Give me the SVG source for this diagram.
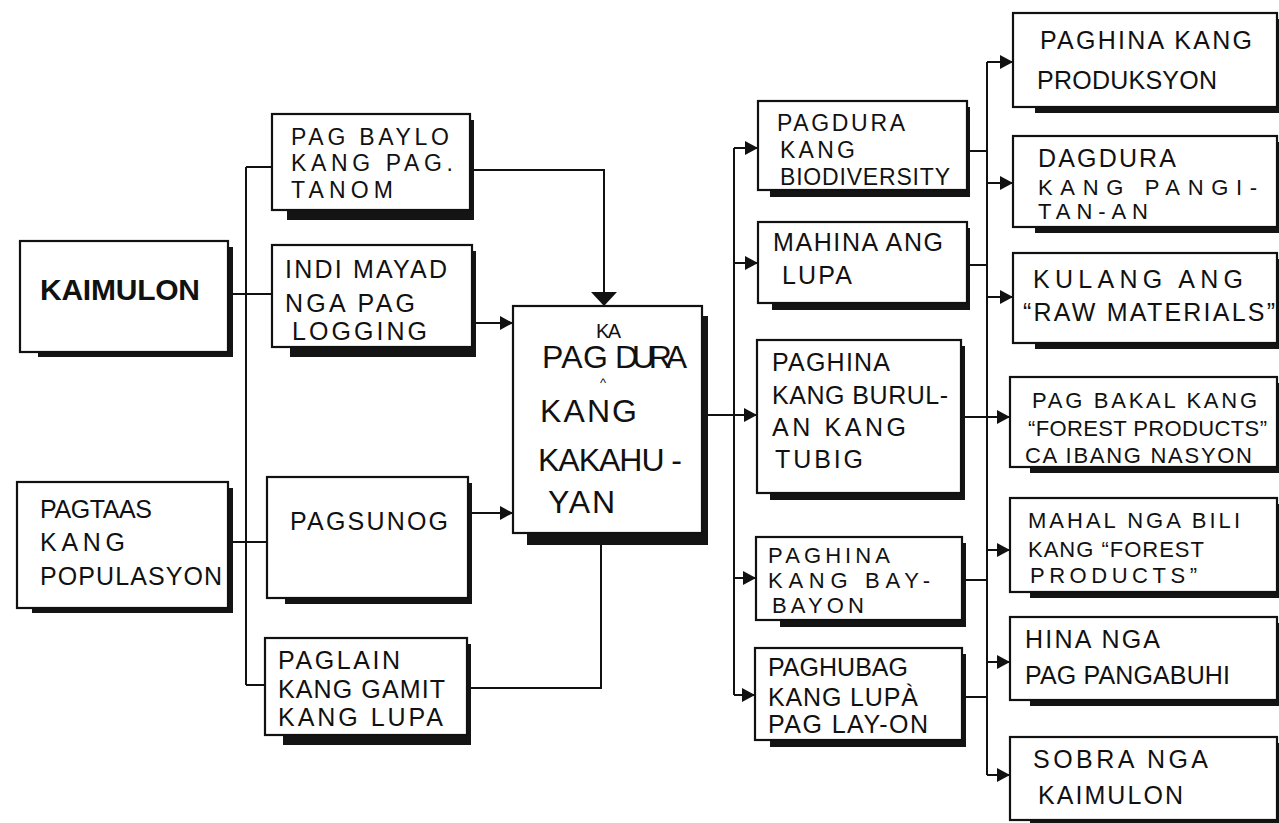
<svg xmlns="http://www.w3.org/2000/svg" width="1279" height="823" viewBox="0 0 1279 823">
<style>
.bg{fill:#ffffff}
.box{fill:#ffffff;stroke:#111;stroke-width:2.2}
.sh{fill:#141414}
.t{font-family:"Liberation Sans","DejaVu Sans",sans-serif;font-size:25px;fill:#111}
.m{font-family:"Liberation Sans","DejaVu Sans",sans-serif;font-size:23px;fill:#111}
.s{font-family:"Liberation Sans","DejaVu Sans",sans-serif;font-size:22px;fill:#111}
.c{font-family:"Liberation Sans","DejaVu Sans",sans-serif;font-size:32px;fill:#111}
.ln{fill:none;stroke:#111;stroke-width:2}
</style>
<defs>
<marker id="ah" markerUnits="userSpaceOnUse" markerWidth="14" markerHeight="14" refX="13" refY="7" orient="auto">
<path d="M0,0 L13,7 L0,14 z" fill="#111"/>
</marker>
<marker id="ahb" markerUnits="userSpaceOnUse" markerWidth="16" markerHeight="26" refX="14" refY="13" orient="auto">
<path d="M0,0 L14,13 L0,26 z" fill="#111"/>
</marker>
</defs>
<rect class="bg" x="0" y="0" width="1279" height="823"/>

<g id="connectors">
<path class="ln" d="M246 167 V685"/>
<path class="ln" d="M246 167 H272"/>
<path class="ln" d="M228 294 H272"/>
<path class="ln" d="M228 542 H267"/>
<path class="ln" d="M246 685 H265"/>
<path class="ln" d="M470 170 H604 V306" marker-end="url(#ahb)"/>
<path class="ln" d="M472 323 H513" marker-end="url(#ah)"/>
<path class="ln" d="M468 513 H513" marker-end="url(#ah)"/>
<path class="ln" d="M467 688 H601 V545"/>
<path class="ln" d="M708 415 H757" marker-end="url(#ah)"/>
<path class="ln" d="M734 148 V695"/>
<path class="ln" d="M734 148 H758" marker-end="url(#ah)"/>
<path class="ln" d="M734 263 H758" marker-end="url(#ah)"/>
<path class="ln" d="M734 578 H756" marker-end="url(#ah)"/>
<path class="ln" d="M734 695 H755" marker-end="url(#ah)"/>
<path class="ln" d="M987 62 V775"/>
<path class="ln" d="M967 151 H987"/>
<path class="ln" d="M967 265 H987"/>
<path class="ln" d="M961 417 H1010" marker-end="url(#ah)"/>
<path class="ln" d="M962 580 H987"/>
<path class="ln" d="M962 697 H987"/>
<path class="ln" d="M987 62 H1013" marker-end="url(#ah)"/>
<path class="ln" d="M987 183 H1013" marker-end="url(#ah)"/>
<path class="ln" d="M987 297 H1013" marker-end="url(#ah)"/>
<path class="ln" d="M987 550 H1010" marker-end="url(#ah)"/>
<path class="ln" d="M987 662 H1010" marker-end="url(#ah)"/>
<path class="ln" d="M987 775 H1010" marker-end="url(#ah)"/>
</g>

<g id="kaimulon">
<rect class="sh" x="38" y="247" width="195" height="110"/>
<rect class="box" x="20" y="241" width="208" height="111"/>
<text x="40" y="300" font-family="Liberation Sans, sans-serif" font-size="30" font-weight="bold" fill="#111" textLength="160">KAIMULON</text>
</g>

<g id="pagtaas">
<rect class="sh" x="32" y="488" width="201" height="125"/>
<rect class="box" x="17" y="482" width="211" height="126"/>
<text class="t" x="40" y="518" textLength="112">PAGTAAS</text>
<text class="t" x="40" y="551" textLength="85">KANG</text>
<text class="t" x="40" y="585" textLength="182">POPULASYON</text>
</g>

<g id="pagbaylo">
<rect class="sh" x="287" y="120" width="187" height="100"/>
<rect class="box" x="272" y="114" width="198" height="96"/>
<text class="m" x="291" y="145" textLength="158">PAG BAYLO</text>
<text class="m" x="291" y="171" textLength="162">KANG PAG.</text>
<text class="m" x="291" y="198" textLength="102">TANOM</text>
</g>

<g id="indimayad">
<rect class="sh" x="290" y="251" width="186" height="106"/>
<rect class="box" x="272" y="245" width="200" height="102"/>
<text class="t" x="285" y="278" textLength="162">INDI MAYAD</text>
<text class="t" x="285" y="312" textLength="130">NGA PAG</text>
<text class="t" x="292" y="340" textLength="135">LOGGING</text>
</g>

<g id="pagsunog">
<rect class="sh" x="285" y="483" width="187" height="121"/>
<rect class="box" x="267" y="477" width="201" height="121"/>
<text class="t" x="290" y="530" textLength="158">PAGSUNOG</text>
</g>

<g id="paglain">
<rect class="sh" x="283" y="644" width="188" height="101"/>
<rect class="box" x="265" y="638" width="202" height="97"/>
<text class="t" x="278" y="669" textLength="122">PAGLAIN</text>
<text class="t" x="278" y="698" textLength="167">KANG GAMIT</text>
<text class="t" x="278" y="726" textLength="165">KANG LUPA</text>
</g>

<g id="central">
<rect class="sh" x="527" y="316" width="181" height="229"/>
<rect class="box" x="513" y="306" width="189" height="227"/>
<text x="596" y="338" font-family="Liberation Sans, sans-serif" font-size="20" fill="#111" textLength="25">KA</text>
<text class="c" x="542" y="368" textLength="66">PAG</text>
<text class="c" x="615" y="368" textLength="72">DURA</text>
<text x="600" y="387" font-family="Liberation Sans, sans-serif" font-size="13" fill="#111">^</text>
<text class="c" x="540" y="422" textLength="97">KANG</text>
<text class="c" x="538" y="471" textLength="144">KAKAHU -</text>
<text class="c" x="548" y="513" textLength="67">YAN</text>
</g>

<g id="biodiversity">
<rect class="sh" x="770" y="107" width="200" height="90"/>
<rect class="box" x="758" y="101" width="209" height="89"/>
<text class="m" x="777" y="131" textLength="128">PAGDURA</text>
<text class="m" x="780" y="158" textLength="75">KANG</text>
<text class="m" x="780" y="185" textLength="170">BIODIVERSITY</text>
</g>

<g id="mahina">
<rect class="sh" x="772" y="228" width="198" height="82"/>
<rect class="box" x="758" y="222" width="209" height="81"/>
<text class="t" x="773" y="251" textLength="170">MAHINA ANG</text>
<text class="t" x="782" y="284" textLength="70">LUPA</text>
</g>

<g id="burulan">
<rect class="sh" x="770" y="346" width="195" height="154"/>
<rect class="box" x="757" y="340" width="204" height="153"/>
<text class="t" x="772" y="371" textLength="118">PAGHINA</text>
<text class="t" x="772" y="404" textLength="176">KANG BURUL-</text>
<text class="t" x="772" y="436" textLength="134">AN KANG</text>
<text class="t" x="775" y="468" textLength="88">TUBIG</text>
</g>

<g id="baybayon">
<rect class="sh" x="780" y="543" width="186" height="84"/>
<rect class="box" x="756" y="537" width="206" height="83"/>
<text class="s" x="768" y="563" textLength="122">PAGHINA</text>
<text class="s" x="768" y="588" textLength="162">KANG BAY-</text>
<text class="s" x="772" y="613" textLength="92">BAYON</text>
</g>

<g id="paghubag">
<rect class="sh" x="770" y="654" width="196" height="93"/>
<rect class="box" x="755" y="648" width="207" height="92"/>
<text class="t" x="768" y="676" textLength="140">PAGHUBAG</text>
<text class="t" x="768" y="706" textLength="150">KANG LUPÀ</text>
<text class="t" x="768" y="733" textLength="160">PAG LAY-ON</text>
</g>

<g id="produksyon">
<rect class="sh" x="1035" y="19" width="244" height="94"/>
<rect class="box" x="1013" y="13" width="264" height="94"/>
<text class="t" x="1040" y="49" textLength="212">PAGHINA  KANG</text>
<text class="t" x="1037" y="89" textLength="180">PRODUKSYON</text>
</g>

<g id="pangitanan">
<rect class="sh" x="1035" y="142" width="244" height="91"/>
<rect class="box" x="1013" y="136" width="264" height="91"/>
<text class="t" x="1038" y="167" textLength="138">DAGDURA</text>
<text class="s" x="1038" y="195" textLength="219">KANG  PANGI-</text>
<text class="s" x="1038" y="219" textLength="110">TAN-AN</text>
</g>

<g id="rawmaterials">
<rect class="sh" x="1035" y="259" width="244" height="90"/>
<rect class="box" x="1013" y="253" width="264" height="90"/>
<text class="t" x="1033" y="288" textLength="210">KULANG  ANG</text>
<text class="t" x="1023" y="321" textLength="252">“RAW  MATERIALS”</text>
</g>

<g id="pagbakal">
<rect class="sh" x="1030" y="383" width="249" height="90"/>
<rect class="box" x="1010" y="377" width="267" height="90"/>
<text class="s" x="1032" y="408" textLength="225">PAG BAKAL KANG</text>
<text class="s" x="1028" y="436" textLength="239">“FOREST PRODUCTS”</text>
<text class="s" x="1025" y="463" textLength="227">CA IBANG NASYON</text>
</g>

<g id="mahal">
<rect class="sh" x="1030" y="504" width="249" height="94"/>
<rect class="box" x="1010" y="498" width="267" height="94"/>
<text class="s" x="1028" y="528" textLength="212">MAHAL NGA BILI</text>
<text class="s" x="1028" y="557" textLength="176">KANG “FOREST</text>
<text class="s" x="1030" y="583" textLength="167">PRODUCTS”</text>
</g>

<g id="pangabuhi">
<rect class="sh" x="1030" y="623" width="249" height="83"/>
<rect class="box" x="1010" y="617" width="267" height="83"/>
<text class="t" x="1025" y="648" textLength="135">HINA NGA</text>
<text class="t" x="1025" y="684" textLength="205">PAG PANGABUHI</text>
</g>

<g id="sobra">
<rect class="sh" x="1030" y="743" width="249" height="83"/>
<rect class="box" x="1010" y="737" width="267" height="83"/>
<text class="t" x="1033" y="768" textLength="175">SOBRA NGA</text>
<text class="t" x="1038" y="804" textLength="145">KAIMULON</text>
</g>
</svg>
